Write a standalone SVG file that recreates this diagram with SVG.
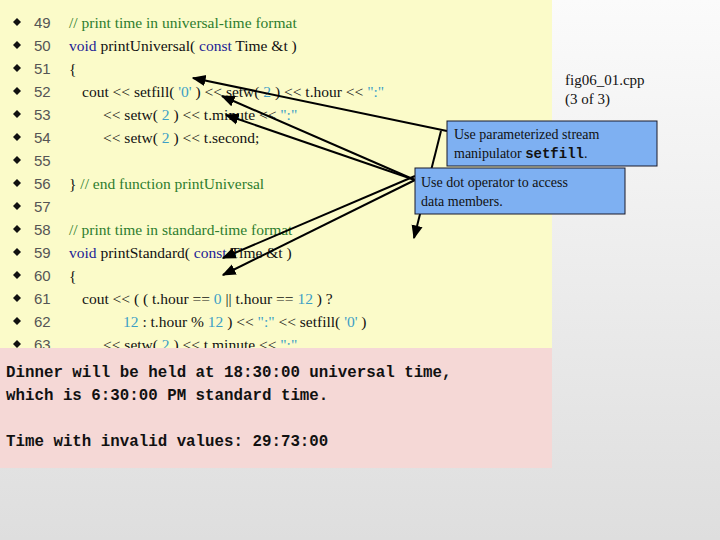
<svg xmlns="http://www.w3.org/2000/svg" width="720" height="540" viewBox="0 0 720 540">
<defs>
<linearGradient id="bg" x1="0" y1="0" x2="0" y2="1"><stop offset="0" stop-color="#fbfbfb"/><stop offset="1" stop-color="#dedede"/></linearGradient>
<marker id="ah" viewBox="0 0 10 10" refX="9" refY="5" markerWidth="7" markerHeight="7" orient="auto"><path d="M0,1 L10,5 L0,9 z" fill="#000"/></marker>
<style>
.c{font-family:"Liberation Serif",serif;font-size:15.5px;fill:#111}
.n{font-family:"Liberation Sans",sans-serif;font-size:15px;fill:#555}
.k{fill:#1c1c96}.g{fill:#2e7d2e}.v{fill:#3d9fc6}
.o{font-family:"Liberation Mono",monospace;font-size:15.8px;font-weight:bold;fill:#111}
.b{fill:#7eb0f2;stroke:#1a1a2a;stroke-width:1}
.t{font-family:"Liberation Serif",serif;font-size:14px;fill:#111}
.a{stroke:#000;stroke-width:2;fill:none;marker-end:url(#ah)}
</style>
</defs>
<rect width="720" height="540" fill="url(#bg)"/>
<rect x="0" y="0" width="552" height="348" fill="#fbfbc9"/>
<g id="code">
<g fill="#111">
<path d="M13,22 l4,-4 l4,4 l-4,4z"/><path d="M13,45 l4,-4 l4,4 l-4,4z"/><path d="M13,68 l4,-4 l4,4 l-4,4z"/><path d="M13,91 l4,-4 l4,4 l-4,4z"/><path d="M13,114 l4,-4 l4,4 l-4,4z"/><path d="M13,137 l4,-4 l4,4 l-4,4z"/><path d="M13,160 l4,-4 l4,4 l-4,4z"/><path d="M13,183 l4,-4 l4,4 l-4,4z"/><path d="M13,206 l4,-4 l4,4 l-4,4z"/><path d="M13,229 l4,-4 l4,4 l-4,4z"/><path d="M13,252 l4,-4 l4,4 l-4,4z"/><path d="M13,275 l4,-4 l4,4 l-4,4z"/><path d="M13,298 l4,-4 l4,4 l-4,4z"/><path d="M13,321 l4,-4 l4,4 l-4,4z"/><path d="M13,344 l4,-4 l4,4 l-4,4z"/>
</g>
<g class="n">
<text x="34" y="28">49</text><text x="34" y="51">50</text><text x="34" y="74">51</text><text x="34" y="97">52</text><text x="34" y="120">53</text><text x="34" y="143">54</text><text x="34" y="166">55</text><text x="34" y="189">56</text><text x="34" y="212">57</text><text x="34" y="235">58</text><text x="34" y="258">59</text><text x="34" y="281">60</text><text x="34" y="304">61</text><text x="34" y="327">62</text><text x="34" y="350">63</text>
</g>
<text class="c g" x="69" y="28">// print time in universal-time format</text>
<text class="c" x="69" y="51"><tspan class="k">void</tspan> printUniversal( <tspan class="k">const</tspan> Time &amp;t )</text>
<text class="c" x="69" y="74">{</text>
<text class="c" x="82" y="97">cout &lt;&lt; setfill( <tspan class="v">'0'</tspan> ) &lt;&lt; setw( <tspan class="v">2</tspan> ) &lt;&lt; t.hour &lt;&lt; <tspan class="v">":"</tspan></text>
<text class="c" x="103" y="120">&lt;&lt; setw( <tspan class="v">2</tspan> ) &lt;&lt; t.minute &lt;&lt; <tspan class="v">":"</tspan></text>
<text class="c" x="103" y="143">&lt;&lt; setw( <tspan class="v">2</tspan> ) &lt;&lt; t.second;</text>
<text class="c" x="69" y="189">} <tspan class="g">// end function printUniversal</tspan></text>
<text class="c g" x="69" y="235">// print time in standard-time format</text>
<text class="c" x="69" y="258"><tspan class="k">void</tspan> printStandard( <tspan class="k">const</tspan> Time &amp;t )</text>
<text class="c" x="69" y="281">{</text>
<text class="c" x="82" y="304">cout &lt;&lt; ( ( t.hour == <tspan class="v">0</tspan> || t.hour == <tspan class="v">12</tspan> ) ?</text>
<text class="c" x="123" y="327"><tspan class="v">12</tspan> : t.hour % <tspan class="v">12</tspan> ) &lt;&lt; <tspan class="v">":"</tspan> &lt;&lt; setfill( <tspan class="v">'0'</tspan> )</text>
<text class="c" x="103" y="350">&lt;&lt; setw( <tspan class="v">2</tspan> ) &lt;&lt; t.minute &lt;&lt; <tspan class="v">":"</tspan></text>
</g>
<rect x="0" y="348" width="552" height="120" fill="#f5d8d6"/>
<g id="output" class="o">
<text x="6" y="377">Dinner will be held at 18:30:00 universal time,</text>
<text x="6" y="400">which is 6:30:00 PM standard time.</text>
<text x="6" y="446">Time with invalid values: 29:73:00</text>
</g>
<g id="title">
<text class="t" x="565" y="85" style="font-size:15px">fig06_01.cpp</text>
<text class="t" x="565" y="104" style="font-size:15px">(3 of 3)</text>
</g>
<g id="connectors">
<line class="a" x1="447" y1="131" x2="193" y2="78"/>
<line class="a" x1="415" y1="180" x2="222" y2="96"/>
<line class="a" x1="415" y1="180" x2="226" y2="115"/>
<line class="a" x1="415" y1="176" x2="223" y2="258"/>
<line class="a" x1="415" y1="180" x2="223" y2="275"/>
<line class="a" x1="441" y1="131" x2="414" y2="238"/>
</g>
<g id="note1">
<rect class="b" x="447" y="121" width="210" height="45"/>
<text class="t" x="454" y="139">Use parameterized stream</text>
<text class="t" x="454" y="158">manipulator <tspan font-family="Liberation Mono,monospace" font-weight="bold">setfill</tspan>.</text>
</g>
<g id="note2">
<rect class="b" x="415" y="168" width="210" height="46"/>
<text class="t" x="421" y="187">Use dot operator to access</text>
<text class="t" x="421" y="206">data members.</text>
</g>
</svg>
